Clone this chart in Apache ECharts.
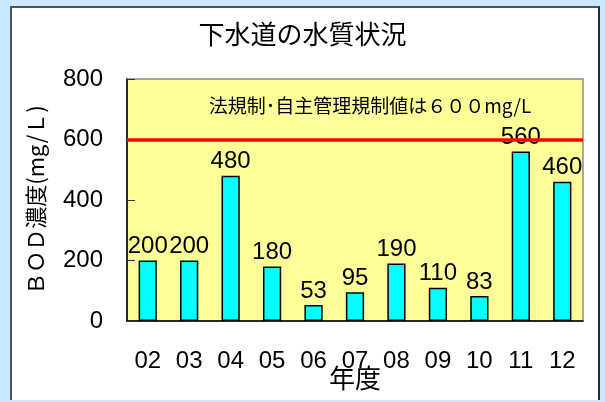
<!DOCTYPE html>
<html>
<head>
<meta charset="utf-8">
<script src="https://cdn.jsdelivr.net/npm/echarts@6/dist/echarts.min.js"></script>
<style>
  html, body { margin: 0; padding: 0; width: 605px; height: 402px; overflow: hidden; background: #CCE8FF; }
  #panel { position: absolute; left: 10px; top: 6px; width: 590px; height: 394px; background: #ffffff;
           border-left: 2px solid #4a5560; border-top: 2px solid #4a5560; border-right: 2px solid #2a2a2a; box-sizing: border-box; }
  #chart { position: absolute; left: 0; top: 0; width: 605px; height: 402px; }
</style>
</head>
<body>
<div id="panel"></div>
<div id="chart"></div>
<script>
// 年度ごとのBOD濃度 (mg/L)
const years = ['02', '03', '04', '05', '06', '07', '08', '09', '10', '11', '12'];
const bodValues = [200, 200, 480, 180, 53, 95, 190, 110, 83, 560, 460];
const limitValue = 600;
const limitText = '法規制･自主管理規制値は６００mg/L';
const yTicks = { min: 0, max: 800, interval: 200 };

const fontCJK = '"Noto Sans CJK JP", "Noto Sans", sans-serif';
const fontNum = '"Liberation Sans", Arial, sans-serif';

const chart = echarts.init(document.getElementById('chart'), null, { renderer: 'canvas' });
chart.setOption({
  backgroundColor: 'transparent',
  animation: false,
  title: {
    text: '下水道の水質状況',
    left: 'center',
    top: 16,
    textStyle: { fontFamily: fontCJK, fontSize: 26, fontWeight: 'normal', color: '#000' }
  },
  grid: {
    left: 127, right: 22, top: 79, bottom: 81,
    outerBoundsMode: 'none',
    containLabel: false,
    show: true, backgroundColor: '#FFFF99', borderColor: '#8a8a8a', borderWidth: 1.5
  },
  xAxis: {
    type: 'category',
    data: years,
    name: '年度',
    nameLocation: 'middle',
    nameGap: 44,
    nameMoveOverlap: false,
    nameTextStyle: { fontFamily: fontCJK, fontSize: 26, color: '#000' },
    axisLine: { lineStyle: { color: '#000', width: 1.5 } },
    axisTick: { inside: true, length: 8, lineStyle: { color: '#333' } },
    axisLabel: { margin: 28, fontFamily: fontNum, fontSize: 24, color: '#000' }
  },
  yAxis: {
    type: 'value',
    min: yTicks.min, max: yTicks.max, interval: yTicks.interval,
    name: 'ＢＯＤ濃度(mg/Ｌ)',
    nameLocation: 'middle',
    nameGap: 80,
    nameMoveOverlap: false,
    nameRotate: 90,
    nameTextStyle: { fontFamily: fontCJK, fontSize: 22, color: '#000' },
    axisLine: { show: true, lineStyle: { color: '#000', width: 1.5 } },
    axisTick: { show: true, inside: true, length: 8, lineStyle: { color: '#333' } },
    axisLabel: { margin: 24, fontFamily: fontNum, fontSize: 24, color: '#000' },
    splitLine: { show: false }
  },
  series: [{
    type: 'bar',
    data: bodValues,
    barWidth: '44%',
    itemStyle: { color: '#00FFFF', borderColor: '#000', borderWidth: 1.5 },
    label: {
      show: true, position: 'top', distance: 2,
      fontFamily: fontNum, fontSize: 24, color: '#000'
    },
    markLine: {
      symbol: 'none',
      silent: true,
      data: [{ yAxis: limitValue }],
      lineStyle: { color: '#FF0000', width: 3.5, type: 'solid' },
      label: {
        show: true,
        position: 'insideMiddleTop',
        formatter: limitText,
        distance: 24,
        offset: [15, 0],
        fontFamily: fontCJK, fontSize: 19, color: '#000'
      }
    }
  }]
});
</script>
</body>
</html>
